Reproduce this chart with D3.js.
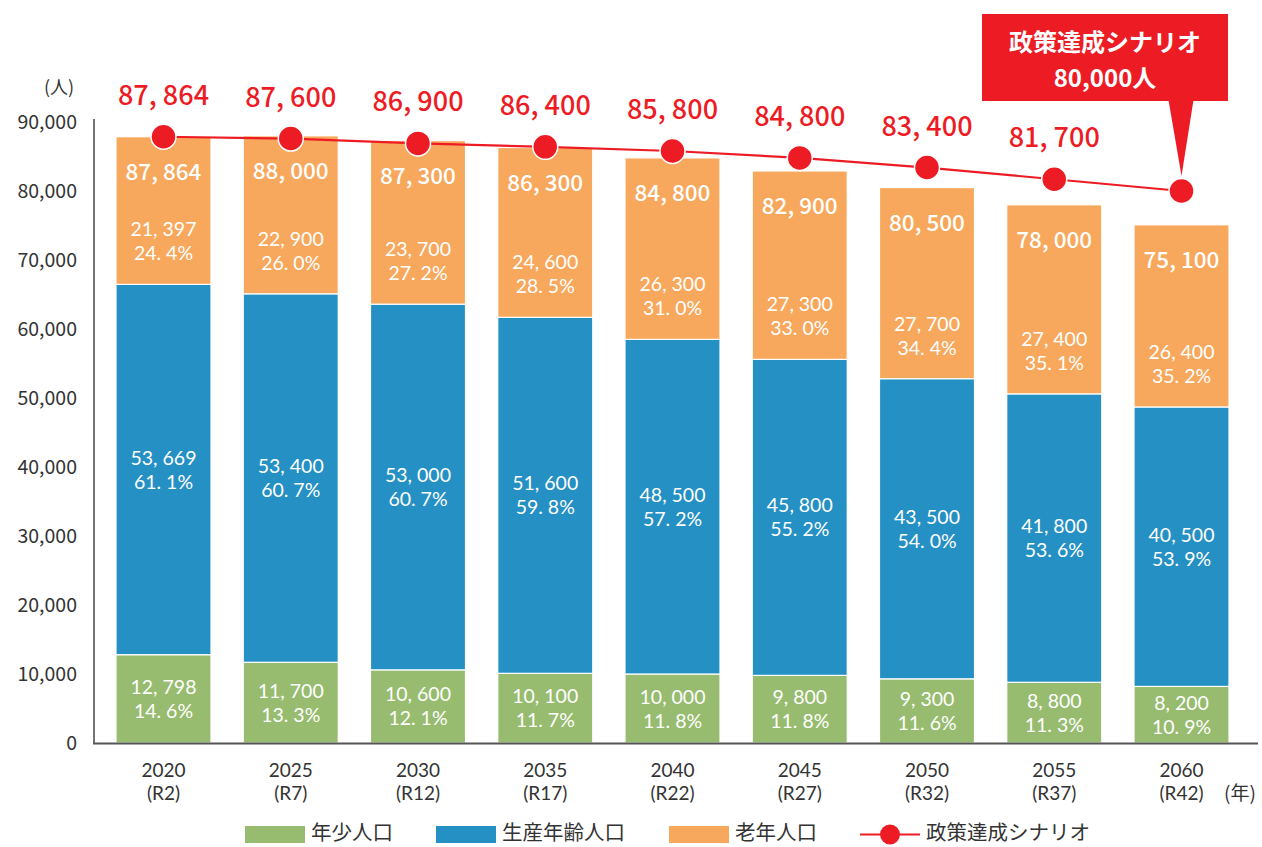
<!DOCTYPE html>
<html>
<head>
<meta charset="utf-8">
<script src="https://cdn.jsdelivr.net/npm/d3@7"></script>
<style>
  body { margin: 0; background: #fff; }
  svg text { font-family: "Noto Sans CJK JP", "Noto Sans", sans-serif; }
  svg text.num { font-family: Lato, "Noto Sans CJK JP", sans-serif; }
</style>
</head>
<body>
<div id="chart"></div>
<script>
// data
const years = ['2020', '2025', '2030', '2035', '2040', '2045', '2050', '2055', '2060'];
const eras = ['(R2)', '(R7)', '(R12)', '(R17)', '(R22)', '(R27)', '(R32)', '(R37)', '(R42)'];
const young = [12798, 11700, 10600, 10100, 10000, 9800, 9300, 8800, 8200];
const working = [53669, 53400, 53000, 51600, 48500, 45800, 43500, 41800, 40500];
const elderly = [21397, 22900, 23700, 24600, 26300, 27300, 27700, 27400, 26400];
const totals = [87864, 88000, 87300, 86300, 84800, 82900, 80500, 78000, 75100];
const youngPct = ['14.6', '13.3', '12.1', '11.7', '11.8', '11.8', '11.6', '11.3', '10.9'];
const workingPct = ['61.1', '60.7', '60.7', '59.8', '57.2', '55.2', '54.0', '53.6', '53.9'];
const elderlyPct = ['24.4', '26.0', '27.2', '28.5', '31.0', '33.0', '34.4', '35.1', '35.2'];
const scenario = [87864, 87600, 86900, 86400, 85800, 84800, 83400, 81700, 80000];
const yTicks = [0, 10000, 20000, 30000, 40000, 50000, 60000, 70000, 80000, 90000];

const colors = {young: '#97bc6f', working: '#2590c3', elderly: '#f7a85d', red: '#ed1c24', text: '#333'};

const width = 1262, height = 847;
const svg = d3.select('#chart').append('svg')
    .attr('width', width).attr('height', height);

// scales
const x = d3.scaleBand()
    .domain(years)
    .range([95, 1250])
    .paddingInner(0.2534)
    .paddingOuter(0.165);

const y = d3.scaleLinear()
    .domain([0, 90000])
    .range([743, 122]);

// number with spaced comma like the original
const fmt = v => d3.format(',')(v).replace(',', ', ');
const pct = p => p.replace('.', '. ') + '%';

// y axis
const yAxis = svg.append('g')
    .attr('transform', 'translate(94,0)')
    .call(d3.axisLeft(y).tickValues(yTicks).tickSize(0).tickPadding(17)
        .tickFormat(d => d === 0 ? '0' : d3.format(',')(d)));
yAxis.select('.domain').remove();
yAxis.selectAll('text')
    .attr('font-size', 19.5)
    .attr('fill', colors.text)
    .attr('font-family', '"Noto Sans CJK JP", sans-serif');

svg.append('line')
    .attr('x1', 94).attr('x2', 94)
    .attr('y1', 119).attr('y2', y(0))
    .attr('stroke', '#444').attr('stroke-width', 1.5);

svg.append('text')
    .attr('x', 59).attr('y', 94)
    .attr('text-anchor', 'middle')
    .attr('font-size', 18).attr('fill', colors.text)
    .text('(人)');

// stacked bars
const segs = years.map((yr, i) => [
    {key: 'young', y0: 0, y1: young[i], v: young[i], p: youngPct[i]},
    {key: 'working', y0: young[i], y1: young[i] + working[i], v: working[i], p: workingPct[i]},
    {key: 'elderly', y0: young[i] + working[i], y1: totals[i], v: elderly[i], p: elderlyPct[i]}
].map(s => Object.assign(s, {year: yr})));

const barG = svg.append('g');
barG.selectAll('g')
    .data(segs)
    .enter().append('g')
    .selectAll('rect')
    .data(d => d)
    .enter().append('rect')
    .attr('x', d => x(d.year))
    .attr('width', x.bandwidth())
    .attr('y', d => y(d.y1))
    .attr('height', d => y(d.y0) - y(d.y1))
    .attr('fill', d => colors[d.key])
    .attr('stroke', '#fff')
    .attr('stroke-width', 1.2);

// segment labels (value + share, two lines)
const labG = svg.append('g').attr('fill', '#fff').attr('text-anchor', 'middle').attr('font-size', 19.5);
segs.flat().forEach(d => {
    const cx = x(d.year) + x.bandwidth() / 2;
    let b1;
    if (d.key === 'elderly') {
        b1 = y(d.y0) - 48;
    } else {
        b1 = (y(d.y0) + y(d.y1)) / 2 - 5;
    }
    labG.append('text').attr('class', 'num').attr('x', cx).attr('y', b1).text(fmt(d.v));
    labG.append('text').attr('class', 'num').attr('x', cx).attr('y', b1 + 24).text(pct(d.p));
});

// totals on top of bars
svg.append('g')
    .selectAll('text')
    .data(years)
    .enter().append('text')
    .attr('x', d => x(d) + x.bandwidth() / 2)
    .attr('y', (d, i) => y(totals[i]) + 43)
    .attr('text-anchor', 'middle')
    .attr('font-size', 22.5)
    .attr('font-weight', 500)
    .attr('fill', '#fff')
    .text((d, i) => fmt(totals[i]));

// x axis
svg.append('line')
    .attr('x1', 93).attr('x2', 1258)
    .attr('y1', y(0) + 0.5).attr('y2', y(0) + 0.5)
    .attr('stroke', '#555').attr('stroke-width', 2);

const xl = svg.append('g').attr('text-anchor', 'middle').attr('font-size', 19).attr('fill', colors.text);
years.forEach((yr, i) => {
    const cx = x(yr) + x.bandwidth() / 2;
    xl.append('text').attr('class', 'num').attr('x', cx).attr('y', 777).text(yr);
    xl.append('text').attr('class', 'num').attr('x', cx).attr('y', 800).text(eras[i]);
});
xl.append('text').attr('x', 1240).attr('y', 800).text('(年)');

// scenario line
const cxOf = i => x(years[i]) + x.bandwidth() / 2;
svg.append('path')
    .datum(scenario)
    .attr('fill', 'none')
    .attr('stroke', colors.red)
    .attr('stroke-width', 2.2)
    .attr('d', d3.line().x((d, i) => cxOf(i)).y(d => y(d)));

svg.append('g')
    .selectAll('circle')
    .data(scenario)
    .enter().append('circle')
    .attr('cx', (d, i) => cxOf(i))
    .attr('cy', d => y(d))
    .attr('r', 12.5)
    .attr('fill', colors.red)
    .attr('stroke', '#fff')
    .attr('stroke-width', 1.5);

svg.append('g')
    .selectAll('text')
    .data(scenario.slice(0, scenario.length - 1))
    .enter().append('text')
    .attr('x', (d, i) => cxOf(i))
    .attr('y', d => y(d) - 32)
    .attr('text-anchor', 'middle')
    .attr('font-size', 27)
    .attr('font-weight', 500)
    .attr('fill', colors.red)
    .text(d => fmt(d));

// callout for the 2060 target
const last = scenario.length - 1;
const tipX = cxOf(last), tipY = y(scenario[last]) - 15;
const call = svg.append('g');
call.append('rect')
    .attr('x', 982).attr('y', 14)
    .attr('width', 246).attr('height', 87)
    .attr('fill', colors.red);
call.append('path')
    .attr('d', `M${tipX - 13},100 L${tipX + 12},100 L${tipX},${tipY} Z`)
    .attr('fill', colors.red);
call.append('text')
    .attr('x', 1105).attr('y', 51)
    .attr('text-anchor', 'middle')
    .attr('font-size', 24).attr('font-weight', 700).attr('fill', '#fff')
    .text('政策達成シナリオ');
call.append('text')
    .attr('x', 1105).attr('y', 87)
    .attr('text-anchor', 'middle')
    .attr('font-size', 24).attr('font-weight', 700).attr('fill', '#fff')
    .text('80,000人');

// legend
const legend = [
    {label: '年少人口', color: colors.young, x: 245, type: 'rect'},
    {label: '生産年齢人口', color: colors.working, x: 436, type: 'rect'},
    {label: '老年人口', color: colors.elderly, x: 669, type: 'rect'},
    {label: '政策達成シナリオ', color: colors.red, x: 860, type: 'line'}
];
const lg = svg.append('g');
legend.forEach(l => {
    if (l.type === 'rect') {
        lg.append('rect').attr('x', l.x).attr('y', 826).attr('width', 60).attr('height', 17).attr('fill', l.color);
    } else {
        lg.append('line').attr('x1', l.x).attr('x2', l.x + 60).attr('y1', 834.5).attr('y2', 834.5)
            .attr('stroke', l.color).attr('stroke-width', 2.2);
        lg.append('circle').attr('cx', l.x + 30).attr('cy', 834.5).attr('r', 10).attr('fill', l.color);
    }
    lg.append('text').attr('x', l.x + 66).attr('y', 840)
        .attr('font-size', 20.5).attr('fill', colors.text).text(l.label);
});
</script>
</body>
</html>
